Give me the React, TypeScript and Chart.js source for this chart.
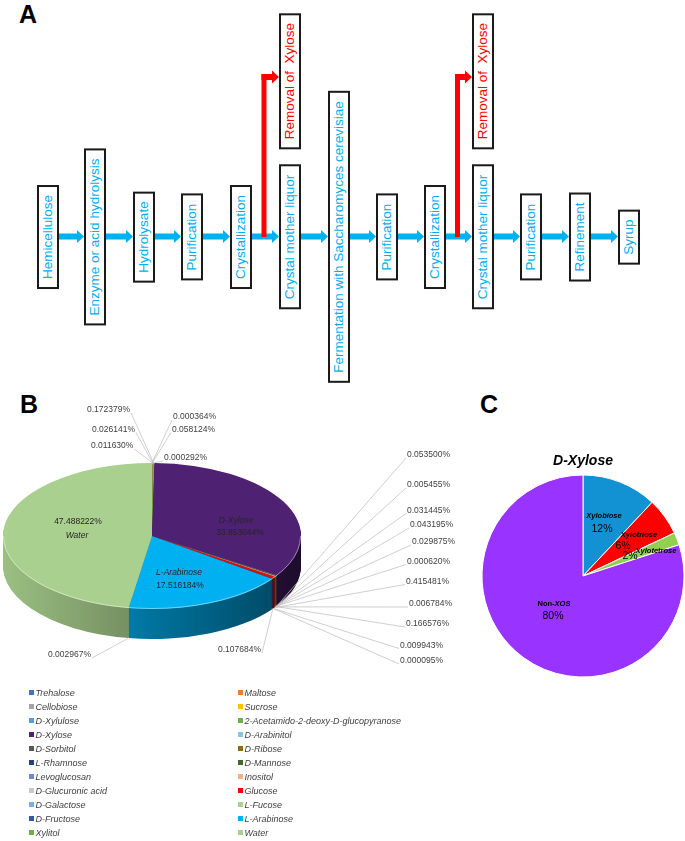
import React, { useEffect, useRef } from 'react';
import { Chart, registerables } from 'chart.js';

Chart.register(...registerables);

const FONT = '"Liberation Sans", Arial, Helvetica, sans-serif';

// ---------------- Panel A : process flow ----------------
const FLOW_STEPS = [
  'Hemicellulose',
  'Enzyme or acid hydrolysis',
  'Hydrolysate',
  'Purification',
  'Crystallization',
  'Crystal mother liquor',
  'Fermentation with Saccharomyces cerevisiae',
  'Purification',
  'Crystallization',
  'Crystal mother liquor',
  'Purification',
  'Refinement',
  'Syrup',
];
const FLOW_LEFT = [37, 84, 133, 181, 230, 279, 328, 376, 424, 472, 520, 569, 618];
const REMOVAL_TEXT = 'Removal of  Xylose';
const REMOVAL_AFTER = [4, 8]; // index of the Crystallization step that branches

// ---------------- Panel B : composition (row-wise legend order) ----------------
const SUGARS = [
  'Trehalose', 'Maltose', 'Cellobiose', 'Sucrose', 'D-Xylulose',
  '2-Acetamido-2-deoxy-D-glucopyranose', 'D-Xylose', 'D-Arabinitol', 'D-Sorbitol',
  'D-Ribose', 'L-Rhamnose', 'D-Mannose', 'Levoglucosan', 'Inositol',
  'D-Glucuronic acid', 'Glucose', 'D-Galactose', 'L-Fucose', 'D-Fructose',
  'L-Arabinose', 'Xylitol', 'Water',
];
const SUGAR_PCT = [
  0.000364, 0.058124, 0.000292, 0.011630, 0.026141,
  0.172379, 33.853044, 0.053500, 0.005455,
  0.031445, 0.043195, 0.029875, 0.000620, 0.166576,
  0.006784, 0.415481, 0.009943, 0.000095, 0.107684,
  17.516184, 0.002967, 47.488222,
];
const SUGAR_COLORS = [
  '#4472C4', '#ED7D31', '#A5A5A5', '#FFC000', '#5B9BD5',
  '#70AD47', '#4E2172', '#8BC5D8', '#595959',
  '#8C6A12', '#264478', '#43682B', '#698ED0', '#F4B183',
  '#C9C9C9', '#FF0000', '#7CAFDD', '#A9D18E', '#335AA1',
  '#00B0F0', '#70AD47', '#A9D08E',
];
const BIG_SLICES = [6, 19, 21];

// ---------------- Panel C : D-Xylose ----------------
const XOS_LABELS = ['Xylobiose', 'Xylotriose', 'Xylotetrose', 'Non-XOS'];
const XOS_PCT = [12, 6, 2, 80];
const XOS_COLORS = ['#1292D3', '#FF0000', '#92D050', '#9933FF'];

// ---------------- layout constants ----------------
const B_CANVAS = { left: 0, top: 380, width: 460, height: 310 };
const B_GEOM = { cx: 152, cy: 536, ry: 73, depth: 30 };
// small-label placement (page coords): [left x, centre y, side of leader line]
const B_SMALL_POS: Record<number, [number, number, 'L' | 'R']> = {
  0: [173, 417, 'L'],
  1: [172, 429.5, 'L'],
  2: [164, 458, 'L'],
  3: [91, 446, 'R'],
  4: [92, 429.5, 'R'],
  5: [87, 410, 'R'],
  7: [407, 455, 'L'],
  8: [407, 485, 'L'],
  9: [407, 510.5, 'L'],
  10: [410, 525, 'L'],
  11: [412, 542, 'L'],
  12: [407, 561.5, 'L'],
  13: [406, 624, 'L'],
  14: [409, 604, 'L'],
  15: [406, 581.5, 'L'],
  16: [400, 645.5, 'L'],
  17: [400, 661, 'L'],
  18: [218, 650, 'R'],
  20: [48, 655, 'R'],
};
// big-label placement (page coords, centred): [name x, name y, value x, value y]
const B_BIG_POS: Record<number, [number, number, number, number]> = {
  6: [236, 521, 240, 533],
  19: [179, 573, 180, 586],
  21: [77, 535.5, 78, 521.5],
};
const C_CANVAS = { left: 470, top: 430, width: 215, height: 260 };
// offsets from pie centre: [name dx, name dy, value dx, value dy]
const C_LABEL_OFF = [
  [21, -60, 19, -47],
  [56, -41, 40, -30],
  [73, -25, 47, -20],
  [-29, 28, -30, 40],
];

function pct6(v: number) {
  return v.toFixed(6) + '%';
}

function FlowBox({ left, text, color, top }: { left: number; text: string; color: string; top?: number }) {
  const outer: React.CSSProperties =
    top === undefined
      ? { position: 'absolute', left, top: 236.5, transform: 'translateY(-50%)' }
      : { position: 'absolute', left, top };
  return (
    <div style={outer}>
      <div
        style={{
          writingMode: 'vertical-rl',
          transform: 'rotate(180deg)',
          border: '2px solid #1a1a1a',
          background: '#fff',
          color,
          font: `13.5px ${FONT}`,
          lineHeight: '18px',
          padding: '8px 0',
          whiteSpace: 'pre',
          boxSizing: 'border-box',
          width: 22,
          textAlign: 'center',
        }}
      >
        {text}
      </div>
    </div>
  );
}

function PanelA() {
  const arrows: React.ReactNode[] = [];
  for (let i = 0; i < FLOW_LEFT.length - 1; i++) {
    const x1 = FLOW_LEFT[i] + 22;
    const x2 = FLOW_LEFT[i + 1];
    arrows.push(
      <g key={'b' + i} fill="#00B0F0">
        <rect x={x1} y={233.5} width={x2 - 7 - x1} height={6} />
        <polygon points={`${x2 - 7},230 ${x2},236.5 ${x2 - 7},243`} />
      </g>
    );
  }
  REMOVAL_AFTER.forEach((si, k) => {
    const x1 = FLOW_LEFT[si] + 22;
    const x2 = FLOW_LEFT[si + 1];
    const xc = (x1 + x2) / 2 - 1.5;
    arrows.push(
      <g key={'r' + k} fill="#FF0000">
        <rect x={xc - 2.5} y={74} width={5} height={163} />
        <rect x={xc - 2.5} y={74} width={x2 - 7 - (xc - 2.5)} height={6} />
        <polygon points={`${x2 - 7},70.5 ${x2},77 ${x2 - 7},83.5`} />
      </g>
    );
  });
  return (
    <>
      <svg width={685} height={841} style={{ position: 'absolute', left: 0, top: 0 }}>
        {arrows}
        <text x={19} y={23} fontFamily={FONT} fontWeight="bold" fontSize={25} fill="#000">A</text>
        <text x={20} y={413} fontFamily={FONT} fontWeight="bold" fontSize={25} fill="#000">B</text>
        <text x={480} y={413} fontFamily={FONT} fontWeight="bold" fontSize={25} fill="#000">C</text>
      </svg>
      {FLOW_STEPS.map((s, i) => (
        <FlowBox key={i} left={FLOW_LEFT[i]} text={s} color="#00AEEF" />
      ))}
      {REMOVAL_AFTER.map((si, k) => (
        <FlowBox key={'rm' + k} left={FLOW_LEFT[si + 1]} text={REMOVAL_TEXT} color="#FF0000" top={13} />
      ))}
    </>
  );
}

function PanelB() {
  const ref = useRef<HTMLCanvasElement | null>(null);
  useEffect(() => {
    if (!ref.current) return;
    const tx = B_GEOM.cx - B_CANVAS.left;
    const ty = B_GEOM.cy - B_CANVAS.top;
    const pie3d = {
      id: 'pie3d',
      beforeDatasetsDraw(chart: any) {
        const ctx = chart.ctx as CanvasRenderingContext2D;
        const arcs = chart.getDatasetMeta(0).data as any[];
        const a0 = arcs[0];
        const R = a0.outerRadius;
        const k = B_GEOM.ry / R;
        ctx.save();
        for (let d = B_GEOM.depth; d >= 1; d--) {
          ctx.save();
          ctx.translate(tx, ty + d);
          ctx.scale(1, k);
          ctx.translate(-a0.x, -a0.y);
          arcs.forEach((a, i) => {
            if (a.endAngle - a.startAngle <= 0) return;
            ctx.beginPath();
            ctx.moveTo(a.x, a.y);
            ctx.arc(a.x, a.y, a.outerRadius, a.startAngle, a.endAngle);
            ctx.closePath();
            ctx.fillStyle = SUGAR_COLORS[i];
            ctx.fill();
          });
          ctx.restore();
        }
        ctx.globalCompositeOperation = 'source-atop';
        const g = ctx.createLinearGradient(tx - R, 0, tx + R, 0);
        g.addColorStop(0, 'rgba(0,0,0,0.08)');
        g.addColorStop(1, 'rgba(0,0,0,0.62)');
        ctx.fillStyle = g;
        ctx.fillRect(0, 0, chart.width, chart.height);
        ctx.restore();
        ctx.save();
        ctx.translate(tx, ty);
        ctx.scale(1, k);
        ctx.translate(-a0.x, -a0.y);
      },
      afterDatasetsDraw(chart: any) {
        const ctx = chart.ctx as CanvasRenderingContext2D;
        ctx.restore();
        const arcs = chart.getDatasetMeta(0).data as any[];
        const R = arcs[0].outerRadius;
        const k = B_GEOM.ry / R;
        ctx.save();
        // top rim highlight
        ctx.beginPath();
        ctx.ellipse(tx, ty, R - 0.5, B_GEOM.ry - 0.5, 0, 0, Math.PI);
        ctx.strokeStyle = 'rgba(255,255,255,0.45)';
        ctx.lineWidth = 1;
        ctx.stroke();
        ctx.textBaseline = 'middle';
        // small labels with leader lines
        arcs.forEach((a, i) => {
          const pos = B_SMALL_POS[i];
          if (!pos) return;
          const mid = (a.startAngle + a.endAngle) / 2;
          let px = tx + R * Math.cos(mid);
          let py = ty + k * R * Math.sin(mid);
          if (Math.sin(mid) > 0) py += B_GEOM.depth;
          const txt = pct6(SUGAR_PCT[i]);
          ctx.font = `8.5px ${FONT}`;
          const w = ctx.measureText(txt).width;
          const lx = pos[0] - B_CANVAS.left;
          const ly = pos[1] - B_CANVAS.top;
          const ex = pos[2] === 'L' ? lx - 1 : lx + w + 1;
          ctx.beginPath();
          ctx.moveTo(px, py);
          ctx.lineTo(ex, ly + 3);
          ctx.strokeStyle = '#BFBFBF';
          ctx.lineWidth = 0.75;
          ctx.stroke();
          ctx.fillStyle = '#404040';
          ctx.textAlign = 'left';
          ctx.fillText(txt, lx, ly);
        });
        // big labels
        BIG_SLICES.forEach((i) => {
          const p = B_BIG_POS[i];
          ctx.textAlign = 'center';
          ctx.fillStyle = '#262626';
          ctx.font = `italic 8.5px ${FONT}`;
          ctx.fillText(SUGARS[i], p[0] - B_CANVAS.left, p[1] - B_CANVAS.top);
          ctx.font = `8.5px ${FONT}`;
          ctx.fillText(pct6(SUGAR_PCT[i]), p[2] - B_CANVAS.left, p[3] - B_CANVAS.top);
        });
        ctx.restore();
      },
    };
    const chart = new Chart(ref.current, {
      type: 'pie',
      data: {
        labels: SUGARS,
        datasets: [
          {
            data: SUGAR_PCT,
            backgroundColor: SUGAR_COLORS,
            borderWidth: 0,
          },
        ],
      },
      options: {
        responsive: false,
        maintainAspectRatio: false,
        animation: false,
        events: [],
        radius: 149,
        layout: { padding: 0 },
        plugins: { legend: { display: false }, tooltip: { enabled: false }, title: { display: false } },
      } as any,
      plugins: [pie3d],
    });
    return () => chart.destroy();
  }, []);
  const col1 = SUGARS.map((_, i) => i).filter((i) => i % 2 === 0);
  const col2 = SUGARS.map((_, i) => i).filter((i) => i % 2 === 1);
  const legendItem = (i: number, row: number, x: number) => (
    <div
      key={'lg' + i}
      style={{
        position: 'absolute',
        left: x,
        top: 695 + 14 * row - 7,
        height: 14,
        lineHeight: '14px',
        font: `italic 9px ${FONT}`,
        color: '#404040',
        whiteSpace: 'nowrap',
      }}
    >
      <span
        style={{
          display: 'inline-block',
          width: 5,
          height: 5,
          background: SUGAR_COLORS[i],
          marginRight: 1.5,
          verticalAlign: 'middle',
          position: 'relative',
          top: -1,
        }}
      />
      {SUGARS[i]}
    </div>
  );
  return (
    <>
      <canvas
        ref={ref}
        width={B_CANVAS.width}
        height={B_CANVAS.height}
        style={{ position: 'absolute', left: B_CANVAS.left, top: B_CANVAS.top, width: B_CANVAS.width, height: B_CANVAS.height }}
      />
      {col1.map((i, r) => legendItem(i, r, 29))}
      {col2.map((i, r) => legendItem(i, r, 238))}
    </>
  );
}

function PanelC() {
  const ref = useRef<HTMLCanvasElement | null>(null);
  useEffect(() => {
    if (!ref.current) return;
    const labels = {
      id: 'xosLabels',
      afterDatasetsDraw(chart: any) {
        const ctx = chart.ctx as CanvasRenderingContext2D;
        const a0 = chart.getDatasetMeta(0).data[0] as any;
        const cx = a0.x;
        const cy = a0.y;
        ctx.save();
        ctx.textBaseline = 'middle';
        ctx.textAlign = 'left';
        ctx.fillStyle = '#000';
        XOS_LABELS.forEach((name, i) => {
          const o = C_LABEL_OFF[i];
          const parts: [string, string][] =
            name === 'Non-XOS'
              ? [['Non-', `bold 7.5px ${FONT}`], ['XOS', `italic bold 7.5px ${FONT}`]]
              : [[name, `italic bold 7.5px ${FONT}`]];
          let total = 0;
          parts.forEach(([t, f]) => {
            ctx.font = f;
            total += ctx.measureText(t).width;
          });
          let x = cx + o[0] - total / 2;
          parts.forEach(([t, f]) => {
            ctx.font = f;
            ctx.fillText(t, x, cy + o[1]);
            x += ctx.measureText(t).width;
          });
          ctx.font = `10.5px ${FONT}`;
          const v = XOS_PCT[i] + '%';
          const vw = ctx.measureText(v).width;
          ctx.fillText(v, cx + o[2] - vw / 2, cy + o[3]);
        });
        ctx.restore();
      },
    };
    const chart = new Chart(ref.current, {
      type: 'pie',
      data: {
        labels: XOS_LABELS,
        datasets: [
          {
            data: XOS_PCT,
            backgroundColor: XOS_COLORS,
            borderColor: '#ffffff',
            borderWidth: 1,
          },
        ],
      },
      options: {
        responsive: false,
        maintainAspectRatio: false,
        animation: false,
        events: [],
        radius: 101,
        layout: { padding: { left: 11, right: 0, top: 0, bottom: 17.4 } },
        plugins: {
          legend: { display: false },
          tooltip: { enabled: false },
          title: {
            display: true,
            text: 'D-Xylose',
            color: '#000',
            font: { family: FONT, size: 14, weight: 'bold', style: 'italic', lineHeight: 1.2 },
            padding: { top: 22.6, bottom: 10 },
          },
        },
      } as any,
      plugins: [labels],
    });
    return () => chart.destroy();
  }, []);
  return (
    <canvas
      ref={ref}
      width={C_CANVAS.width}
      height={C_CANVAS.height}
      style={{ position: 'absolute', left: C_CANVAS.left, top: C_CANVAS.top, width: C_CANVAS.width, height: C_CANVAS.height }}
    />
  );
}

export default function App() {
  return (
    <div style={{ position: 'absolute', left: 0, top: 0, width: 685, height: 841, background: '#fff', overflow: 'hidden' }}>
      <PanelA />
      <PanelB />
      <PanelC />
    </div>
  );
}
